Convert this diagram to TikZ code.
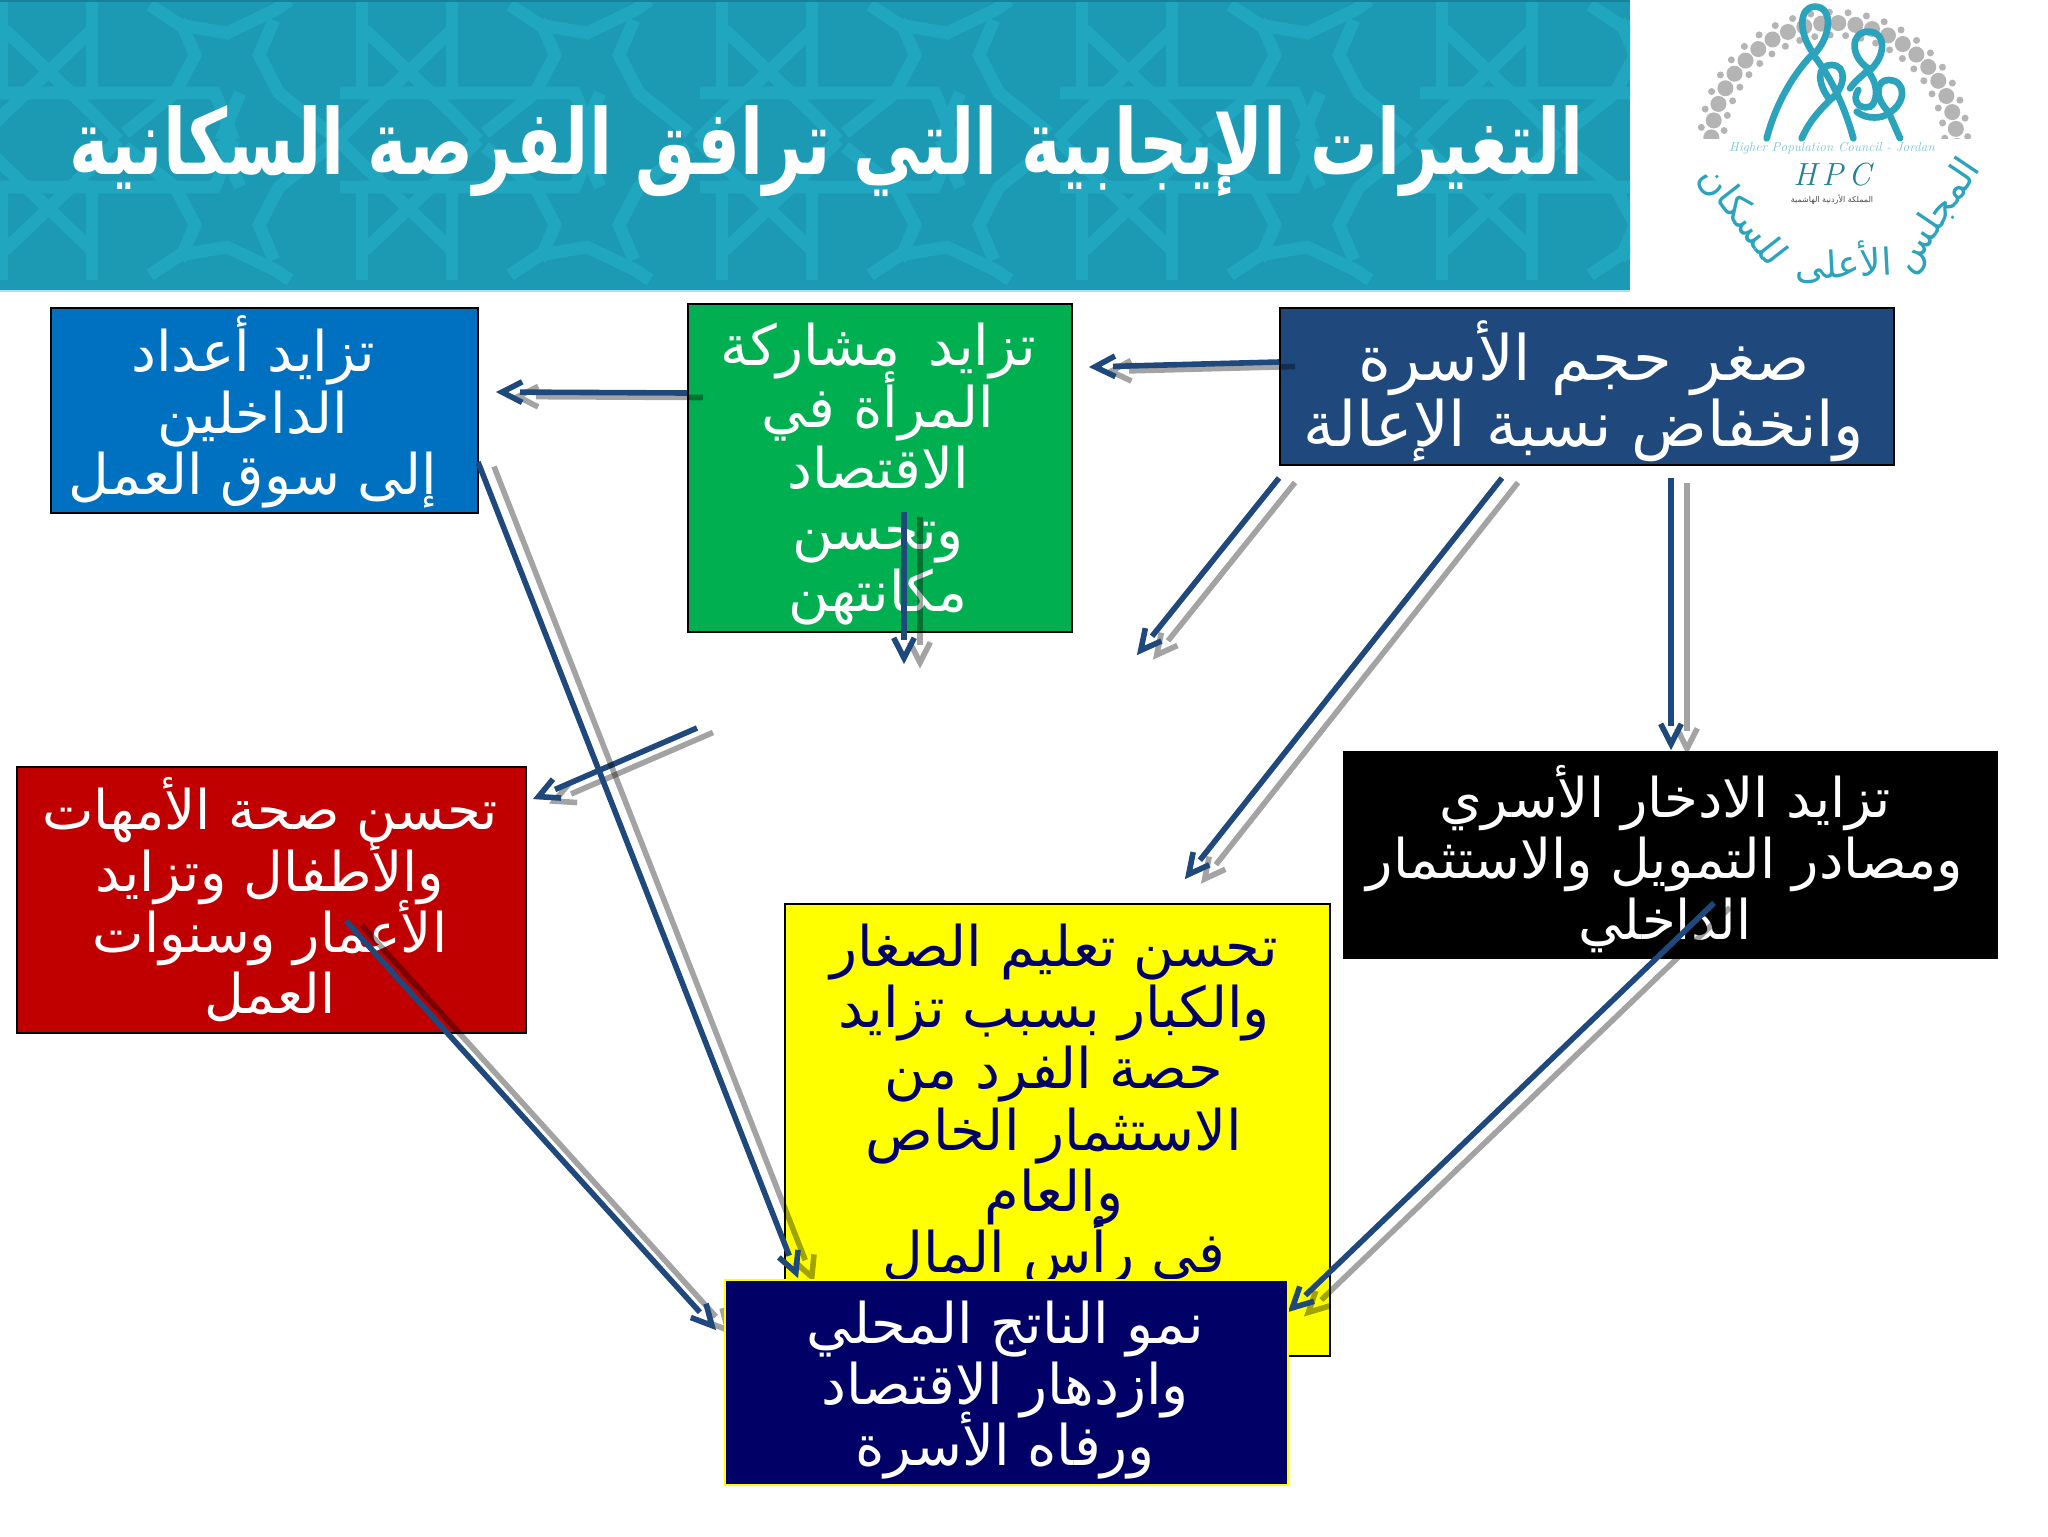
\documentclass[tikz,border=0pt]{standalone}
\usepackage{fontspec}
\usepackage{graphicx}
\usetikzlibrary{calc}
\TeXXeTstate=1
\newfontfamily\arabicfont[Script=Arabic]{DejaVu Sans}
\newcommand\rl[1]{\beginR #1\endR}
\newcommand\tightlines{\lineskiplimit=-200pt\lineskip=0pt}
\definecolor{bannerbase}{HTML}{1C99B3}
\definecolor{bannerlight}{HTML}{21A6C0}
\definecolor{arrowblue}{HTML}{1F497D}
\definecolor{boxblue}{HTML}{0070C0}
\definecolor{boxgreen}{HTML}{00B050}
\definecolor{boxnavy}{HTML}{1F497D}
\definecolor{boxred}{HTML}{C00000}
\definecolor{boxyellow}{HTML}{FFFF00}
\definecolor{deepnavy}{HTML}{000066}
\definecolor{logoteal}{HTML}{2BA3BD}
\definecolor{logogray}{HTML}{B4B4B4}
\tikzset{
  boxbase/.style={rectangle,draw=black,line width=1.5pt,inner sep=0pt,outer sep=0pt},
  txt/.style={align=center,inner sep=0pt,font=\arabicfont\fontsize{42}{46}\selectfont\tightlines},
  midtxt/.style={align=center,inner sep=0pt,font=\arabicfont\fontsize{41}{46}\selectfont\tightlines},
  bigtxt/.style={align=center,inner sep=0pt,font=\arabicfont\fontsize{47}{49.5}\selectfont\tightlines},
  shaftblue/.style={draw=arrowblue,line width=4.2pt,line cap=butt},
  shaftgray/.style={draw=black,draw opacity=.36,line width=4.2pt,line cap=butt},
  lattice/.style={draw=bannerlight,line width=9.5pt,line join=miter},
  loop/.style={draw=logoteal,line width=5pt,line cap=round},
  logoword/.style={inner sep=0pt,text=logoteal,font=\arabicfont\fontsize{28}{30}\selectfont},
}
\newcommand\boxnode[6]{\node[boxbase,fill=#6,minimum width={(#4-#2)*0.75pt},minimum height={(#5-#3)*0.75pt}] (#1) at ({(#2+#4)/2},{(#3+#5)/2}) {};}
\newcommand\onearrow[3]{%
  \coordinate (tipin) at ($(#2)!4.5pt!(#1)$);
  \draw[#3] (#1) -- ($(#2)!18pt!(#1)$);
  \draw[#3] ($(tipin)!17pt!27:(#1)$) -- (tipin) -- ($(tipin)!17pt!-27:(#1)$);}
\newcommand\arrowpair[2]{%
  \coordinate (sa) at ($(#1)+(16,4.5)$);
  \coordinate (sb) at ($(#2)+(16,4.5)$);
  \onearrow{sa}{sb}{shaftgray}
  \onearrow{#1}{#2}{shaftblue}}
\begin{document}
\begin{tikzpicture}[x=0.75pt,y=-0.75pt]
\useasboundingbox (0,0) rectangle (2048,1536);
\fill[white] (0,0) rectangle (2048,1536);
% banner
\fill[bannerbase] (0,0) rectangle (1630,290);
\begin{scope}
\clip (0,0) rectangle (1630,290);
\foreach \k in {-1,0,1,2,3,4}{
 \foreach \m/\o in {1/0,-1/280}{
 \begin{scope}[shift={(360*\k,\o)},y={(0,-0.75pt*\m)}]
  \draw[lattice] (2,0)--(2,93) (92,0)--(92,93);
  \draw[lattice] (-20,93)--(215,93)--(234,140);
  \draw[lattice] (505,93)--(380,93);
  \draw[lattice] (5,30)--(92,113)--(118,140);
  \draw[lattice] (92,30)--(5,113)--(-22,140);
  \draw[lattice] (150,5)--(180,25)--(227,33)--(275,10)--(290,0);
  \draw[lattice] (180,20)--(195,55)--(175,93)--(125,133);
  \draw[lattice] (274,20)--(259,55)--(279,93)--(329,133);
  \draw[lattice] (362,0)--(362,93);
  \draw[lattice] (240,93)--(221,140);
 \end{scope}}}
\end{scope}
\draw[bannerbase!85!black,line width=1.5pt] (0,1)--(1630,1);
\draw[bannerlight!35!white,line width=1.5pt] (0,291)--(1630,291);
\node[inner sep=0pt,text=white,font=\arabicfont\bfseries\fontsize{68}{76}\selectfont] (title) at (827,151) {\resizebox{1136pt}{\height}{\rl{التغيرات الإيجابية التي ترافق الفرصة السكانية}}};
% logo
\begin{scope}
\clip (1680,0) rectangle (1990,138);
\foreach \a in {0,8,...,180}{
  \fill[logogray] ({1834+123*cos(\a)},{146-123*sin(\a)}) circle (8);
  \fill[logogray] ({1834+134*cos(\a+4)},{146-134*sin(\a+4)}) circle (3.5);
  \fill[logogray] ({1834+111*cos(\a+4)},{146-111*sin(\a+4)}) circle (3.5);
}
\end{scope}
\begin{scope}[x=0.25pt,y=-0.25pt,shift={(1237.5pt,0pt)}]
 \draw[loop] (350,415) .. controls (380,300) and (440,210) .. (490,160) .. controls (445,100) and (445,20) .. (495,20) .. controls (550,20) and (545,110) .. (490,165) .. controls (550,240) and (590,340) .. (610,415);
 \draw[loop] (455,415) .. controls (480,360) and (510,330) .. (540,300) .. controls (500,250) and (500,195) .. (545,195) .. controls (590,195) and (590,260) .. (540,300);
 \draw[loop] (600,265) .. controls (625,230) and (640,230) .. (655,205) .. controls (600,170) and (600,95) .. (655,95) .. controls (710,95) and (710,170) .. (655,215) .. controls (690,260) and (680,310) .. (660,320) .. controls (625,330) and (605,300) .. (625,270);
 \draw[loop] (620,335) .. controls (650,360) and (700,355) .. (715,340) .. controls (770,310) and (770,240) .. (715,240) .. controls (680,240) and (670,290) .. (715,335) -- (750,415);
\end{scope}
\node[inner sep=0pt,text=logoteal!60!white,font=\itshape\fontsize{9.8}{11}\selectfont] (logoen) at (1832,148) {Higher Population Council - Jordan};
\node[inner sep=0pt,text=logoteal!80!black,font=\itshape\fontsize{24}{26}\selectfont] (logohpc) at (1832,175) {H\,P\,C};
\node[inner sep=0pt,text=black!70,font=\arabicfont\fontsize{6}{7}\selectfont] (logosub) at (1832,200) {\rl{المملكة الأردنية الهاشمية}};
\node[logoword,rotate=56] (logoa) at (1938,216) {\rl{المجلس}};
\node[logoword,rotate=3] (logob) at (1843,262) {\rl{الأعلى}};
\node[logoword,rotate=-52] (logoc) at (1742,216) {\rl{للسكان}};
% boxes
\boxnode{bluebox}{51}{308}{478}{513}{boxblue}
\boxnode{greenbox}{688}{304}{1072}{632}{boxgreen}
\boxnode{navybox}{1280}{308}{1894}{465}{boxnavy}
\boxnode{blackbox}{1344}{752}{1997}{958}{black}
\boxnode{redbox}{17}{767}{526}{1033}{boxred}
\boxnode{yellowbox}{785}{904}{1330}{1356}{boxyellow}
% box texts
\node[txt,text=white] (bluetxt) at (253,412) {\rl{تزايد أعداد}\\\rl{الداخلين}\\\rl{إلى سوق العمل}};
\node[txt,text=white] (greentxt) at (878,474) {\rl{تزايد\hspace{.5em}مشاركة}\\\rl{المرأة في}\\\rl{الاقتصاد}\\\rl{وتحسن}\\\rl{مكانتهن}};
\node[bigtxt,text=white] (navytxt) at (1584,391) {\rl{صغر حجم الأسرة}\\\rl{وانخفاض نسبة الإعالة}};
\node[midtxt,text=white] (blacktxt) at (1665,859) {\rl{تزايد الادخار الأسري}\\\rl{ومصادر التمويل والاستثمار}\\\rl{الداخلي}};
\node[midtxt,text=white] (redtxt) at (270,900) {\rl{تحسن صحة الأمهات}\\\rl{والأطفال وتزايد}\\\rl{الأعمار وسنوات}\\\rl{العمل}};
\node[txt,text=deepnavy] (yellowtxt) at (1054,1105) {\rl{تحسن تعليم الصغار}\\\rl{والكبار بسبب تزايد}\\\rl{حصة الفرد من}\\\rl{الاستثمار الخاص}\\\rl{والعام}\\\rl{في رأس المال}};
% arrow ends
\coordinate (n1) at (1279,362);  \coordinate (n1t) at (1089,367);
\coordinate (g1) at (687,393);   \coordinate (g1t) at (496,392);
\coordinate (n2) at (1279,478);  \coordinate (n2t) at (1137,655);
\coordinate (n3) at (1502,478);  \coordinate (n3t) at (1185,879);
\coordinate (n4) at (1671,478);  \coordinate (n4t) at (1671,750);
\coordinate (g2) at (904,512);   \coordinate (g2t) at (904,664);
\coordinate (m1) at (697,728);   \coordinate (m1t) at (533,799);
\coordinate (b1) at (478,462);   \coordinate (b1t) at (798,1278);
\coordinate (r1) at (346,921);   \coordinate (r1t) at (716,1330);
\coordinate (k1) at (1714,903);  \coordinate (k1t) at (1288,1312);
\arrowpair{n1}{n1t}
\arrowpair{g1}{g1t}
\arrowpair{n2}{n2t}
\arrowpair{n3}{n3t}
\arrowpair{n4}{n4t}
\arrowpair{g2}{g2t}
\arrowpair{m1}{m1t}
\arrowpair{b1}{b1t}
\arrowpair{r1}{r1t}
\arrowpair{k1}{k1t}
% bottom box
\node[boxbase,draw=boxyellow,fill=deepnavy,minimum width=422pt,minimum height=154pt] (gdpbox) at (1006.5,1382.5) {};
\node[txt,text=white] (gdptxt) at (1005,1390) {\rl{نمو الناتج المحلي}\\\rl{وازدهار الاقتصاد}\\\rl{ورفاه الأسرة}};
\end{tikzpicture}
\end{document}
